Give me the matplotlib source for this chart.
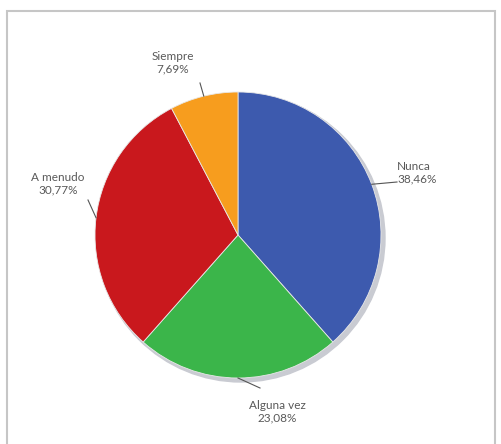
import matplotlib
matplotlib.use('Agg')
import matplotlib.pyplot as plt
import numpy as np
from matplotlib.patches import Circle

# data
categories = ['Nunca', 'Alguna vez', 'A menudo', 'Siempre']
percents = [38.46, 23.08, 30.77, 7.69]
colors = ['#3d5aae', '#3bb54a', '#c9181d', '#f79d1e']

W, H = 501, 444
fig = plt.figure(figsize=(W / 100, H / 100), dpi=100)
ax = fig.add_axes([0, 0, 1, 1])

cx, cy, r = 238, H - 235, 143

# frame around the chart area
ax.plot([7, 7, 495, 495], [0, H - 11, H - 11, 0], color='#c6c6c6', lw=1.5,
        solid_joinstyle='miter')

# soft shadow behind the pie
ax.add_patch(Circle((cx + 3, cy - 3), r + 1, color='#c9cbd2', zorder=1))

wedges, _ = ax.pie(percents, colors=colors, startangle=90, counterclock=False,
                   center=(cx, cy), radius=r, frame=True,
                   wedgeprops=dict(edgecolor='#e8e8e8', linewidth=0.6, zorder=2))
ax.set_xlim(0, W)
ax.set_ylim(0, H)
ax.axis('off')

# label layout (pixel positions from top-left) and leader-line ends
label_pos = {
    'Nunca': (397, 173, 'left'),
    'Alguna vez': (277, 412, 'center'),
    'A menudo': (58, 184, 'center'),
    'Siempre': (173, 63, 'center'),
}
leader_end = {
    'Nunca': (397, 182),
    'Alguna vez': (260, 388),
    'A menudo': (88, 200),
    'Siempre': (200, 83),
}

for w, name, p in zip(wedges, categories, percents):
    mid = np.deg2rad((w.theta1 + w.theta2) / 2)
    x0 = cx + r * np.cos(mid)
    y0 = cy + r * np.sin(mid)
    ex, ey = leader_end[name]
    ax.plot([x0, ex], [y0, H - ey], color='#555555', lw=0.8, zorder=3)
    tx, ty, ha = label_pos[name]
    txt = f"{name}\n{p:.2f}%".replace('.', ',')
    ax.text(tx, H - ty, txt, ha=ha, va='center', fontsize=8.5,
            family='Lato', color='#595959', linespacing=1.15,
            multialignment='center' if ha == 'center' else 'left')

fig.savefig('out.png', dpi=100, facecolor='white')
